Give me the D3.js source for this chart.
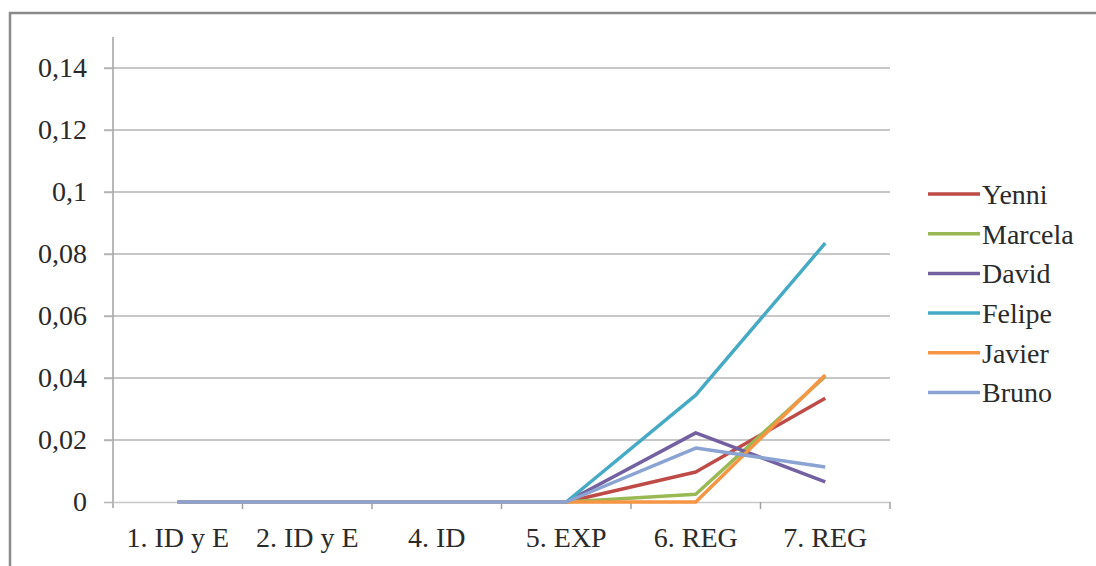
<!DOCTYPE html>
<html><head><meta charset="utf-8">
<script src="https://cdn.jsdelivr.net/npm/d3@7"></script>
<style>
html,body{margin:0;padding:0;background:#fff;}
svg text{font-family:"Liberation Serif","Times New Roman","Tinos","DejaVu Serif",serif !important;fill:#2a2a2a;}
</style></head>
<body><svg id="c" width="1096" height="566"></svg>
<script>
const categories = ["1. ID y E","2. ID y E","4. ID","5. EXP","6. REG","7. REG"];
const seriesNames = ["Yenni","Marcela","David","Felipe","Javier","Bruno"];
const yenni   = [0,0,0,0,0.0097,0.0335];
const marcela = [0,0,0,0,0.0025,0.0405];
const david   = [0,0,0,0,0.0223,0.0065];
const felipe  = [0,0,0,0,0.0345,0.0835];
const javier  = [0,0,0,0,0,0.0410];
const bruno   = [0,0,0,0,0.0174,0.0113];
const yTicks  = [0,0.02,0.04,0.06,0.08,0.1,0.12,0.14];
const yTickLabels = ["0","0,02","0,04","0,06","0,08","0,1","0,12","0,14"];
const colors = ["#BE4B48","#98B954","#7260A0","#46AAC5","#F69544","#8AA3D2"];

const values = [yenni,marcela,david,felipe,javier,bruno];
const svg = d3.select("#c");
const W=1096,H=566;
svg.append("rect").attr("width",W).attr("height",H).attr("fill","#fff");
// chart frame
svg.append("path").attr("d",`M10,${H+5} V13 H${W+5}`).attr("fill","none").attr("stroke","#8a8a8a").attr("stroke-width",2.5);

const pL=113,pR=890,pT=37,pB=502;
const x = d3.scaleBand().domain(categories).range([pL,pR]).padding(0);
const y = d3.scaleLinear().domain([0,0.15]).range([pB,pT]);

// gridlines
svg.append("g").selectAll("line").data(yTicks.slice(1)).join("line")
  .attr("x1",pL-9).attr("x2",pR).attr("y1",d=>y(d)).attr("y2",d=>y(d))
  .attr("stroke","#b4b4b4").attr("stroke-width",1.5);

// y axis
const yAxis = d3.axisLeft(y).tickValues(yTicks).tickSize(9).tickFormat((d,i)=>yTickLabels[i]);
const gy = svg.append("g").attr("transform",`translate(${pL},0)`).call(yAxis).attr("font-family",null);
gy.select(".domain").attr("d",`M0,${pT}V${pB+6}`).attr("stroke","#a0a0a0").attr("stroke-width",1.5);
gy.selectAll(".tick line").attr("stroke","#b4b4b4").attr("stroke-width",1.5);
gy.selectAll(".tick text").attr("x",-26).attr("font-size",28).attr("fill","#2a2a2a");

// x axis
const xAxis = d3.axisBottom(x).tickSize(0).tickPadding(25);
const gx = svg.append("g").attr("transform",`translate(0,${pB})`).call(xAxis).attr("font-family",null);
gx.select(".domain").attr("stroke","#c8c8c8").attr("stroke-width",1.5);
gx.selectAll(".tick text").attr("font-size",28).attr("fill","#2a2a2a");
// boundary tick marks
gx.append("g").selectAll("line").data(categories).join("line")
  .attr("x1",d=>x(d)+x.bandwidth()).attr("x2",d=>x(d)+x.bandwidth())
  .attr("y1",0).attr("y2",7).attr("stroke","#a0a0a0").attr("stroke-width",1.5);

// lines
const line = d3.line().x((d,i)=>x(categories[i])+x.bandwidth()/2).y(d=>y(d));
svg.append("g").selectAll("path").data(values).join("path")
  .attr("d",d=>line(d)).attr("fill","none")
  .attr("stroke",(d,i)=>colors[i]).attr("stroke-width",3.5).attr("stroke-linejoin","round");

// legend
const lg = svg.append("g").attr("transform","translate(928,194)");
const items = lg.selectAll("g").data(seriesNames).join("g").attr("transform",(d,i)=>`translate(0,${i*39.7})`);
items.append("line").attr("x1",0).attr("x2",52).attr("y1",0).attr("y2",0)
  .attr("stroke",(d,i)=>colors[i]).attr("stroke-width",3.5);
items.append("text").attr("x",54).attr("dy","0.35em").attr("font-size",28).text(d=>d);
</script></body></html>
